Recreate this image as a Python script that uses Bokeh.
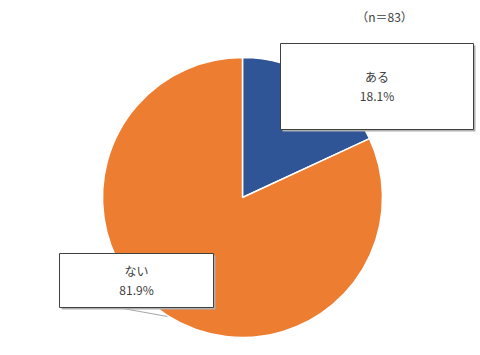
import numpy as np
from bokeh.plotting import figure
from bokeh.models import Range1d
from bokeh.core.properties import value
from bokeh.embed import file_html
from bokeh.resources import INLINE

categories = ["ある", "ない"]
values = [18.1, 81.9]
colors = ["#2F5597", "#ED7D31"]
n_label = "（n＝83）"

W, H = 480, 355
p = figure(width=W, height=H, x_range=Range1d(0, W), y_range=Range1d(0, H),
           output_backend="svg", toolbar_location=None, min_border=0)
p.axis.visible = False
p.grid.visible = False
p.outline_line_color = None
p.background_fill_color = "white"
p.border_fill_color = "white"

cx, cy, r = 242, 355 - 197, 140
fr = np.array(values) / sum(values)
ends = np.pi / 2 - 2 * np.pi * np.cumsum(fr)
starts = np.concatenate([[np.pi / 2], ends[:-1]])
p.wedge(x=cx, y=cy, radius=r, start_angle=list(starts), end_angle=list(ends),
        direction="clock", fill_color=colors, line_color="white", line_width=1.5)

font = value("Noto Sans CJK JP")
# leader line for "ない"
p.line(x=[117, 167], y=[355 - 307, 355 - 316], line_color="#A6A6A6", line_width=1)

boxes = [(280, 43, 473, 129), (59, 253, 213, 307)]
for (x0, y0, x1, y1), cat, v in zip(boxes, categories, values):
    # shadow
    p.quad(left=x0 + 2, right=x1 + 2, bottom=H - y1 - 2, top=H - y0 - 2,
           fill_color="#b0b0b0", line_color=None)
    p.quad(left=x0, right=x1, bottom=H - y1, top=H - y0,
           fill_color="white", line_color="#404040", line_width=1)
    xm = (x0 + x1) / 2
    ym = H - (y0 + y1) / 2
    p.text(x=[xm], y=[ym + 10], text=[cat], text_font=font, text_font_size="12px",
           text_align="center", text_baseline="middle", text_color="#404040")
    p.text(x=[xm], y=[ym - 9], text=[f"{v:.1f}%"], text_font=font, text_font_size="12px",
           text_align="center", text_baseline="middle", text_color="#404040")

p.text(x=[384], y=[H - 16], text=[n_label], text_font=font, text_font_size="12px",
       text_align="center", text_baseline="middle", text_color="#404040")

open("out.html", "w").write(file_html(p, INLINE))
